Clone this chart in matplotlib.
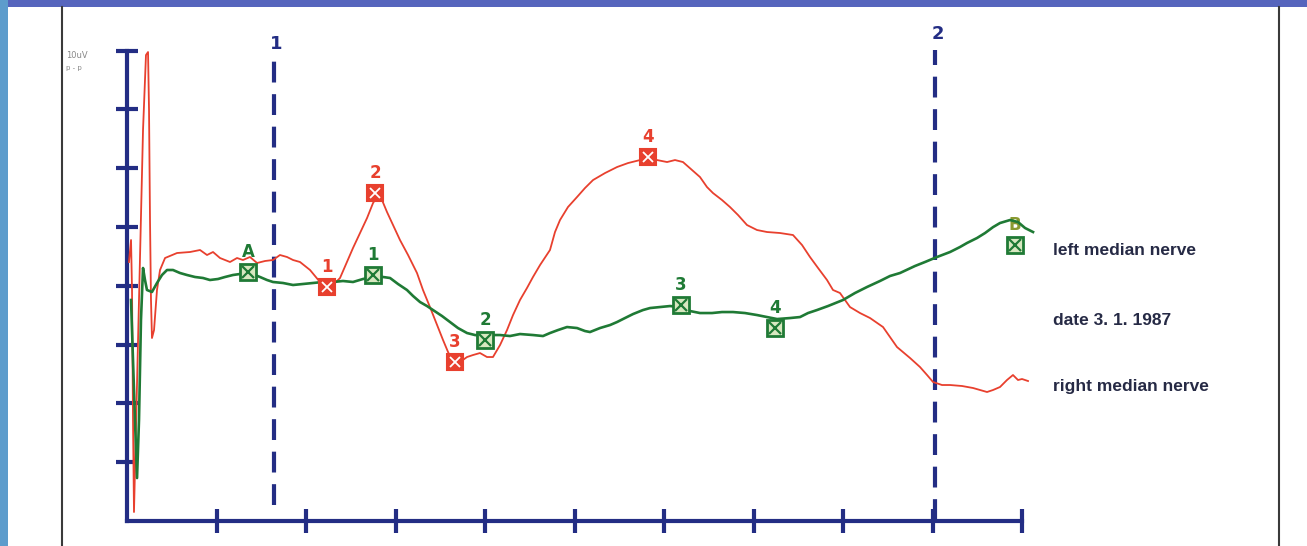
import matplotlib.pyplot as plt
from matplotlib.patches import Rectangle
from matplotlib.lines import Line2D

# axis units: x ticks 1..10, y ticks 1..8 (10uV p-p full scale)
red_t = [0.022, 0.045, 0.056, 0.067, 0.078, 0.089, 0.112, 0.145, 0.179, 0.212, 0.235, 0.246,
         0.257, 0.268, 0.279, 0.302, 0.335, 0.369, 0.425, 0.559, 0.704, 0.816, 0.894, 0.961,
         1.039, 1.151, 1.229, 1.296, 1.374, 1.453, 1.542, 1.631, 1.709, 1.788, 1.855, 1.933,
         2.045, 2.156, 2.235, 2.302, 2.380, 2.458, 2.525, 2.603, 2.682, 2.749, 2.793, 2.849,
         2.905, 2.972, 3.050, 3.140, 3.240, 3.307, 3.385, 3.464, 3.531, 3.587, 3.642, 3.721,
         3.799, 3.866, 3.944, 4.022, 4.089, 4.168, 4.246, 4.313, 4.391, 4.469, 4.536, 4.615,
         4.726, 4.782, 4.838, 4.927, 5.028, 5.117, 5.207, 5.341, 5.475, 5.598, 5.732, 5.821,
         5.922, 6.034, 6.123, 6.212, 6.313, 6.402, 6.480, 6.547, 6.648, 6.737, 6.827, 6.927,
         7.039, 7.151, 7.296, 7.441, 7.542, 7.631, 7.721, 7.821, 7.888, 7.966, 8.078, 8.190,
         8.302, 8.447, 8.525, 8.603, 8.749, 8.860, 8.939, 9.006, 9.106, 9.196, 9.330, 9.453,
         9.531, 9.609, 9.676, 9.754, 9.832, 9.899, 9.955, 10.000, 10.067]
red_v = [4.405, 4.779, 3.929, 1.718, 0.153, 0.867, 2.398, 4.439, 6.650, 7.925, 7.976, 6.990,
         5.119, 3.759, 3.112, 3.248, 3.929, 4.269, 4.473, 4.558, 4.575, 4.609, 4.524, 4.575,
         4.473, 4.405, 4.473, 4.439, 4.490, 4.388, 4.422, 4.439, 4.524, 4.490, 4.439, 4.405,
         4.269, 4.065, 3.980, 4.014, 4.133, 4.405, 4.643, 4.898, 5.153, 5.408, 5.510, 5.459,
         5.255, 5.034, 4.779, 4.524, 4.218, 3.929, 3.639, 3.333, 3.078, 2.874, 2.704, 2.704,
         2.789, 2.823, 2.857, 2.789, 2.789, 2.993, 3.248, 3.503, 3.759, 3.963, 4.150, 4.354,
         4.609, 4.915, 5.119, 5.340, 5.510, 5.663, 5.799, 5.918, 6.020, 6.088, 6.139, 6.190,
         6.139, 6.105, 6.139, 6.105, 5.969, 5.850, 5.680, 5.578, 5.459, 5.340, 5.204, 5.034,
         4.949, 4.915, 4.898, 4.864, 4.694, 4.490, 4.303, 4.099, 3.929, 3.878, 3.639, 3.537,
         3.452, 3.299, 3.129, 2.959, 2.772, 2.619, 2.483, 2.364, 2.313, 2.313, 2.296, 2.262,
         2.228, 2.194, 2.228, 2.279, 2.398, 2.483, 2.398, 2.415, 2.381]

green_t = [0.045, 0.067, 0.089, 0.112, 0.134, 0.156, 0.179, 0.201, 0.223, 0.279, 0.335, 0.391,
           0.447, 0.514, 0.592, 0.670, 0.760, 0.849, 0.927, 1.017, 1.095, 1.184, 1.263, 1.352,
           1.430, 1.486, 1.564, 1.631, 1.743, 1.855, 1.966, 2.078, 2.190, 2.302, 2.413, 2.525,
           2.637, 2.749, 2.860, 2.939, 3.028, 3.128, 3.196, 3.274, 3.352, 3.419, 3.520, 3.609,
           3.698, 3.799, 3.888, 4.000, 4.089, 4.168, 4.279, 4.391, 4.536, 4.648, 4.726, 4.816,
           4.916, 5.028, 5.117, 5.173, 5.285, 5.397, 5.475, 5.564, 5.654, 5.765, 5.844, 5.955,
           6.067, 6.179, 6.291, 6.402, 6.536, 6.648, 6.771, 6.905, 7.039, 7.151, 7.263, 7.408,
           7.520, 7.609, 7.709, 7.832, 8.000, 8.134, 8.268, 8.413, 8.525, 8.637, 8.804, 8.916,
           9.050, 9.196, 9.307, 9.385, 9.497, 9.587, 9.676, 9.754, 9.866, 9.955, 10.034, 10.123]
green_v = [3.759, 2.738, 1.718, 0.731, 1.718, 3.418, 4.303, 4.099, 3.929, 3.895, 4.048, 4.184,
           4.269, 4.269, 4.218, 4.184, 4.150, 4.133, 4.099, 4.116, 4.150, 4.184, 4.201, 4.235,
           4.184, 4.150, 4.099, 4.065, 4.048, 4.014, 4.031, 4.048, 4.065, 4.065, 4.082, 4.065,
           4.116, 4.150, 4.150, 4.133, 4.031, 3.929, 3.827, 3.724, 3.656, 3.588, 3.486, 3.384,
           3.282, 3.197, 3.163, 3.146, 3.163, 3.163, 3.146, 3.180, 3.163, 3.146, 3.197, 3.248,
           3.299, 3.282, 3.231, 3.214, 3.282, 3.333, 3.384, 3.452, 3.520, 3.588, 3.622, 3.639,
           3.656, 3.639, 3.571, 3.537, 3.537, 3.554, 3.554, 3.537, 3.503, 3.469, 3.435, 3.452,
           3.469, 3.537, 3.588, 3.656, 3.759, 3.878, 3.980, 4.082, 4.167, 4.218, 4.337, 4.405,
           4.490, 4.575, 4.660, 4.728, 4.813, 4.898, 4.998, 5.068, 5.119, 5.085, 4.983, 4.915]

red_marks = ["1", "2", "3", "4"]
red_mark_t = [2.235, 2.771, 3.665, 5.821]
red_mark_v = [3.980, 5.578, 2.704, 6.190]

green_marks = ["A", "1", "2", "3", "4", "B"]
green_mark_t = [1.352, 2.749, 4.000, 6.190, 7.240, 9.922]
green_mark_v = [4.235, 4.184, 3.078, 3.673, 3.282, 4.694]

cursor_names = ["1", "2"]
cursor_t = [1.642, 9.028]
cursor_top = [7.84, 8.01]
cursor_bottom = [0.27, 0.02]

legend_lines = ["left median nerve", "date 3. 1. 1987", "right median nerve"]
legend_v = [4.609, 3.418, 2.296]

navy = "#232d84"
red = "#e8402e"
green = "#1f7a35"

W, H = 1307, 546
fig = plt.figure(figsize=(W / 100, H / 100), dpi=100)
fig.patch.set_facecolor("#5665bd")
fig.patches.append(Rectangle((0, 0), 8 / W, 1, transform=fig.transFigure,
                             facecolor="#5d9ccc", edgecolor="none", zorder=-3))
fig.patches.append(Rectangle((8 / W, 0), 1, (H - 7) / H, transform=fig.transFigure,
                             facecolor="white", edgecolor="none", zorder=-2))
for px in (62, 1279):
    fig.lines.append(Line2D([px / W, px / W], [0, (H - 7) / H], transform=fig.transFigure,
                            color="#3a3a3a", lw=1.5, zorder=-1))

ax = fig.add_axes([0, 0, 1, 1])
ax.patch.set_visible(False)
ax.set_xlim(-1.419, 13.184)
ax.set_ylim(-0.425, 8.861)

for s in ("top", "right"):
    ax.spines[s].set_visible(False)
for s in ("left", "bottom"):
    ax.spines[s].set_position(("data", 0))
    ax.spines[s].set_color(navy)
    ax.spines[s].set_linewidth(3)
ax.spines["left"].set_bounds(0, 8)
ax.spines["bottom"].set_bounds(0, 10)
ax.set_xticks(range(1, 11))
ax.set_yticks(range(1, 9))
ax.set_xticklabels([])
ax.set_yticklabels([])
ax.tick_params(axis="x", direction="inout", length=17, width=3, color=navy)
ax.tick_params(axis="y", direction="inout", length=16, width=3, color=navy)

ax.text(-0.68, 7.92, "10uV", fontsize=6, color="#888888", va="center", ha="left")
ax.text(-0.68, 7.70, "p - p", fontsize=5, color="#888888", va="center", ha="left")

for name, t, top, bot in zip(cursor_names, cursor_t, cursor_top, cursor_bottom):
    ax.plot([t, t], [bot, top], color=navy, lw=3, dashes=(5, 2.8), zorder=2)
    ax.text(t + 0.03, top + 0.12, name, color=navy, fontsize=13, fontweight="bold",
            ha="center", va="bottom")

ax.plot(red_t, red_v, color=red, lw=1.3, zorder=3)
ax.plot(green_t, green_v, color=green, lw=1.9, zorder=4)

ax.plot(red_mark_t, red_mark_v, ls="none", marker="s", ms=11, mfc=red, mec=red, mew=1.5, zorder=5)
ax.plot(red_mark_t, red_mark_v, ls="none", marker="x", ms=7, mec="white", mew=1.3, zorder=6)
for name, t, v in zip(red_marks, red_mark_t, red_mark_v):
    ax.annotate(name, (t, v), xytext=(0, 8), textcoords="offset points", color=red,
                fontsize=12, fontweight="bold", ha="center", va="bottom")

ax.plot(green_mark_t, green_mark_v, ls="none", marker="s", ms=11, mfc="#d8e8c0", mec=green,
        mew=2, zorder=5)
ax.plot(green_mark_t, green_mark_v, ls="none", marker="x", ms=8, mec=green, mew=1.6, zorder=6)
for name, t, v in zip(green_marks, green_mark_t, green_mark_v):
    c = "#8a9a30" if name == "B" else green
    ax.annotate(name, (t, v), xytext=(0, 8), textcoords="offset points", color=c,
                fontsize=12, fontweight="bold", ha="center", va="bottom")

for label, v in zip(legend_lines, legend_v):
    ax.text(10.346, v, label, color="#262a45", fontsize=12.5, fontweight="bold",
            family="Liberation Sans", ha="left", va="center")

fig.savefig("out.png", dpi=100, facecolor=fig.get_facecolor())
